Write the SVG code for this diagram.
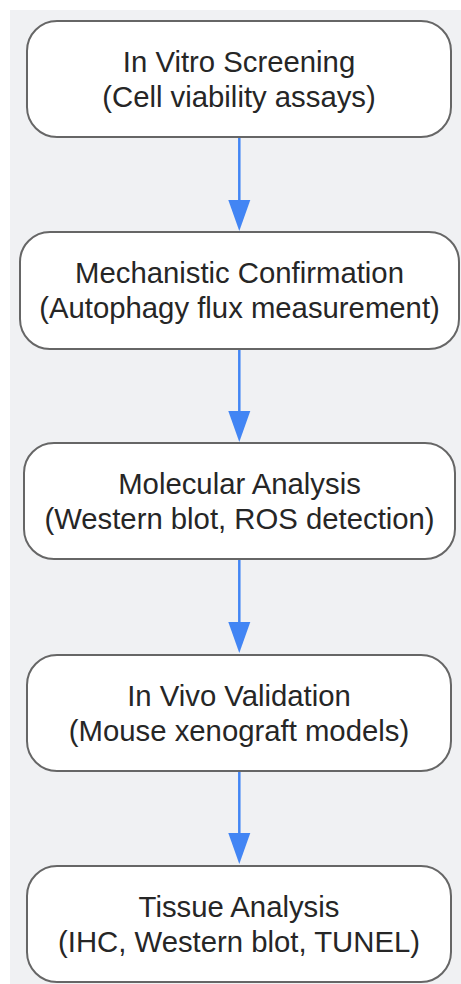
<svg xmlns="http://www.w3.org/2000/svg" width="461" height="984" viewBox="0 0 461 984">
<defs>
<style>
.bg{fill:#f0f1f3;}
.node rect{fill:#ffffff;stroke:#666666;stroke-width:2;}
.node text{font-family:"Liberation Sans",Arial,sans-serif;font-size:29.3px;fill:#262626;text-anchor:middle;}
.edge{stroke:#4285f4;stroke-width:2.5;fill:none;}
.head{fill:#4285f4;}
</style>
</defs>
<rect class="bg" x="10" y="10" width="451" height="974"/>
<g id="connectors">
<path class="edge" d="M239.3 137 V202"/>
<path class="head" d="M228.3 200 L250.3 200 L239.3 231 Z"/>
<path class="edge" d="M239.3 349 V413"/>
<path class="head" d="M228.3 411 L250.3 411 L239.3 442 Z"/>
<path class="edge" d="M239.3 559 V624"/>
<path class="head" d="M228.3 622 L250.3 622 L239.3 653 Z"/>
<path class="edge" d="M239.3 771 V835"/>
<path class="head" d="M228.3 833 L250.3 833 L239.3 864 Z"/>
</g>
<g id="node1" class="node">
<rect x="27" y="21" width="424" height="116" rx="30" ry="30"/>
<text x="239" y="71.5">In Vitro Screening</text>
<text x="239" y="106.5">(Cell viability assays)</text>
</g>
<g id="node2" class="node">
<rect x="20" y="232" width="439" height="117" rx="30" ry="30"/>
<text x="239.5" y="282.5">Mechanistic Confirmation</text>
<text x="239.5" y="317.5">(Autophagy flux measurement)</text>
</g>
<g id="node3" class="node">
<rect x="24" y="443" width="431" height="116" rx="30" ry="30"/>
<text x="239.5" y="493.5">Molecular Analysis</text>
<text x="239.5" y="528.5">(Western blot, ROS detection)</text>
</g>
<g id="node4" class="node">
<rect x="27" y="655" width="424" height="116" rx="30" ry="30"/>
<text x="239" y="705.5">In Vivo Validation</text>
<text x="239" y="740.5">(Mouse xenograft models)</text>
</g>
<g id="node5" class="node">
<rect x="27" y="866" width="424" height="116" rx="30" ry="30"/>
<text x="239" y="916.5">Tissue Analysis</text>
<text x="239" y="951.5">(IHC, Western blot, TUNEL)</text>
</g>
</svg>
